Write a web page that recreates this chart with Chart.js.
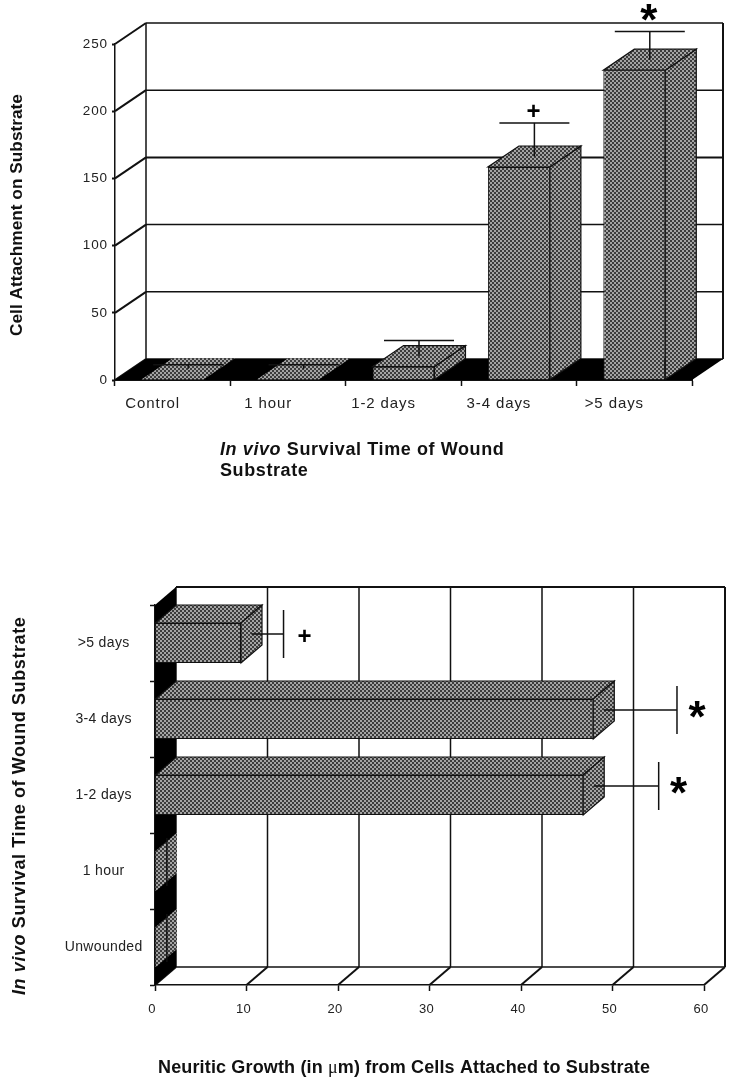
<!DOCTYPE html>
<html>
<head>
<meta charset="utf-8">
<script src="https://cdn.jsdelivr.net/npm/chart.js@4/dist/chart.umd.js"></script>
<style>
  html, body { margin: 0; padding: 0; background: #fff; }
  #page { position: relative; width: 734px; height: 1080px; overflow: hidden; }
  canvas { position: absolute; left: 0; }
  #attachChart { top: 0; }
  #growthChart { top: 560px; }
</style>
</head>
<body>
<div id="page">
  <canvas id="attachChart" width="734" height="500"></canvas>
  <canvas id="growthChart" width="734" height="520"></canvas>
</div>
<script>
// Top chart: cell attachment
const attachLabels = ['Control', '1 hour', '1-2 days', '3-4 days', '>5 days'];
const attachValues = [0.5, 0.5, 10, 158.5, 230.5];
const attachErrors = [3, 3, 11.5, 25, 21];
const attachMarks = ['', '', '', '+', '*'];
const attachTicks = [0, 50, 100, 150, 200, 250];

// Bottom chart: neuritic growth
const growthLabels = ['>5 days', '3-4 days', '1-2 days', '1 hour', 'Unwounded'];
const growthValues = [9.4, 47.9, 46.8, 0.1, 0.1];
const growthErrors = [3.5, 8, 7.1, 0.05, 0.05];
const growthMarks = ['+', '*', '*', '', ''];
const growthTicks = [0, 10, 20, 30, 40, 50, 60];

const INK = '#111';
const FONT = '"Liberation Sans", Arial, sans-serif';

// Dithered grey used on every bar face
function makeDither() {
    const tile = document.createElement('canvas');
    tile.width = 4;
    tile.height = 4;
    const t = tile.getContext('2d');
    t.fillStyle = '#3c3c3c';
    t.fillRect(0, 0, 4, 4);
    t.fillStyle = '#a4a4a4';
    t.fillRect(0, 0, 2, 2);
    t.fillRect(2, 2, 2, 2);
    return t.createPattern(tile, 'repeat');
}
const dither = makeDither();

function poly(ctx, points, fill, stroke) {
    ctx.beginPath();
    points.forEach((p, i) => i ? ctx.lineTo(p[0], p[1]) : ctx.moveTo(p[0], p[1]));
    ctx.closePath();
    if (fill) {
        ctx.fillStyle = fill;
        ctx.fill();
    }
    if (stroke) {
        ctx.strokeStyle = INK;
        ctx.lineWidth = 1.2;
        ctx.stroke();
    }
}

function line(ctx, x1, y1, x2, y2, width) {
    ctx.beginPath();
    ctx.moveTo(x1, y1);
    ctx.lineTo(x2, y2);
    ctx.strokeStyle = INK;
    ctx.lineWidth = width;
    ctx.stroke();
}

// Draws mixed-style text; rotated when rot is set
function drawRuns(ctx, runs, x, y, rot, spacing) {
    ctx.save();
    ctx.translate(x, y);
    ctx.rotate(rot || 0);
    ctx.fillStyle = '#111';
    ctx.textAlign = 'left';
    ctx.textBaseline = 'alphabetic';
    ctx.letterSpacing = spacing + 'px';
    let pos = 0;
    runs.forEach(r => {
        ctx.font = r[1];
        ctx.fillText(r[0], pos, 0);
        pos += ctx.measureText(r[0]).width;
    });
    ctx.restore();
}

function drawMark(ctx, text, x, y) {
    if (!text) return;
    const size = text === '*' ? 44 : 24;
    const lift = text === '*' ? 0.57 : 0.33;
    ctx.save();
    ctx.letterSpacing = '0px';
    ctx.font = 'bold ' + size + 'px ' + FONT;
    ctx.fillStyle = '#000';
    ctx.textAlign = 'center';
    ctx.textBaseline = 'alphabetic';
    ctx.fillText(text, x, y + size * lift);
    ctx.restore();
}

const BOLD = 'bold 18px ' + FONT;
const BOLD_IT = 'italic bold 18px ' + FONT;

// Vertical 3D columns
const attachPlugin = {
    id: 'attach3d',
    beforeDraw(chart) {
        chart.ctx.letterSpacing = '0.9px';
    },
    beforeDatasetsDraw(chart) {
        const { ctx, scales: { x, y } } = chart;
        const dx = 31, dy = -21;
        const left = x.left, right = x.right, base = y.getPixelForValue(0);
        const top = y.getPixelForValue(attachTicks[attachTicks.length - 1]);
        // back wall and its grid, diagonal ties to the front axis
        attachTicks.forEach(v => {
            const py = y.getPixelForValue(v);
            line(ctx, left, py, left + dx, py + dy, 2);
            line(ctx, left + dx, py + dy, right + dx, py + dy, v === 150 ? 2 : 1.5);
        });
        line(ctx, left + dx, top + dy, left + dx, base + dy, 1.5);
        line(ctx, right + dx, top + dy, right + dx, base + dy, 2);
        // black floor
        poly(ctx, [[left, base], [right, base], [right + dx, base + dy], [left + dx, base + dy]], '#000');
    },
    afterDatasetsDraw(chart) {
        const { ctx, scales: { y } } = chart;
        const dx = 31, dy = -21;
        chart.getDatasetMeta(0).data.forEach((bar, i) => {
            const p = bar.getProps(['x', 'y', 'base', 'width'], true);
            const l = p.x - p.width / 2, r = p.x + p.width / 2;
            const flat = p.base - p.y < 3;
            poly(ctx, [[r, p.y], [r + dx, p.y + dy], [r + dx, p.base + dy], [r, p.base]], dither, !flat);
            poly(ctx, [[l, p.y], [r, p.y], [r + dx, p.y + dy], [l + dx, p.y + dy]], dither, !flat);
            // error bar sits at mid depth
            const sx = p.x + dx / 2;
            const capY = y.getPixelForValue(attachValues[i] + attachErrors[i]) + dy / 2;
            line(ctx, sx, p.y + dy / 2, sx, capY, 1.5);
            line(ctx, sx - 35, capY, sx + 35, capY, 1.5);
            drawMark(ctx, attachMarks[i], sx - 1, capY - (attachMarks[i] === '*' ? 22 : 12));
        });
    },
    afterDraw(chart) {
        const ctx = chart.ctx;
        drawRuns(ctx, [['In vivo', BOLD_IT], [' Survival Time of Wound', BOLD]], 220, 455, 0, 0.6);
        drawRuns(ctx, [['Substrate', BOLD]], 220, 476, 0, 0.6);
        drawRuns(ctx, [['Cell Attachment on Substrate', 'bold 17.3px ' + FONT]], 22, 336, -Math.PI / 2, 0);
    }
};

// Horizontal 3D bars
const growthPlugin = {
    id: 'growth3d',
    beforeDraw(chart) {
        chart.ctx.letterSpacing = '0.35px';
    },
    beforeDatasetsDraw(chart) {
        const { ctx, scales: { x, y } } = chart;
        const dx = 21, dy = -18;
        const top = y.top, bottom = y.bottom;
        const left = x.getPixelForValue(0);
        // back wall verticals and diagonal ties along the floor
        growthTicks.forEach(v => {
            const px = x.getPixelForValue(v);
            line(ctx, px, bottom, px + dx, bottom + dy, 2);
            line(ctx, px + dx, top + dy, px + dx, bottom + dy, v === 60 ? 2 : 1.5);
        });
        line(ctx, left + dx, top + dy, x.getPixelForValue(60) + dx, top + dy, 2);
        line(ctx, left + dx, bottom + dy, x.getPixelForValue(60) + dx, bottom + dy, 1.5);
        // black side wall at zero
        poly(ctx, [[left, top], [left + dx, top + dy], [left + dx, bottom + dy], [left, bottom]], '#000');
    },
    afterDatasetsDraw(chart) {
        const { ctx, scales: { x } } = chart;
        const dx = 21, dy = -18;
        chart.getDatasetMeta(0).data.forEach((bar, i) => {
            const p = bar.getProps(['x', 'y', 'base', 'height'], true);
            const t = p.y - p.height / 2, b = p.y + p.height / 2;
            const flat = p.x - p.base < 3;
            poly(ctx, [[p.base, t], [p.x, t], [p.x + dx, t + dy], [p.base + dx, t + dy]], dither, !flat);
            poly(ctx, [[p.x, t], [p.x + dx, t + dy], [p.x + dx, b + dy], [p.x, b]], dither, !flat);
            const sy = p.y + dy / 2;
            const capX = x.getPixelForValue(growthValues[i] + growthErrors[i]) + dx / 2;
            line(ctx, p.x + dx / 2, sy, capX, sy, 1.5);
            line(ctx, capX, sy - 24, capX, sy + 24, 1.5);
            if (growthMarks[i] === '*') drawMark(ctx, '*', capX + 20, sy - 3);
            else drawMark(ctx, growthMarks[i], capX + 21, sy + 2);
        });
    },
    afterDraw(chart) {
        const ctx = chart.ctx;
        const h = chart.height;
        drawRuns(ctx, [['Neuritic Growth (in ', BOLD], ['\u03bc', '18px "Liberation Serif", serif'], ['m) from Cells Attached to Substrate', BOLD]], 158, h - 7, 0, 0.15);
        drawRuns(ctx, [['In vivo', BOLD_IT], [' Survival Time of Wound Substrate', BOLD]], 25, 435, -Math.PI / 2, 0.6);
    }
};

new Chart(document.getElementById('attachChart'), {
    type: 'bar',
    data: {
        labels: attachLabels,
        datasets: [{
            data: attachValues,
            backgroundColor: dither,
            borderColor: INK,
            borderWidth: ctx => ctx.raw < 3 ? 0 : 1,
            barPercentage: 0.537,
            categoryPercentage: 1
        }]
    },
    plugins: [attachPlugin],
    options: {
        responsive: false,
        animation: false,
        layout: { padding: { top: 44, right: 42 } },
        plugins: { legend: { display: false }, tooltip: { enabled: false } },
        scales: {
            x: {
                afterFit: s => { s.height = 120; },
                grid: { drawOnChartArea: false, tickLength: 6, tickColor: INK, tickWidth: 1.5 },
                border: { color: INK, width: 2 },
                ticks: { color: '#222', font: { family: FONT, size: 15 }, padding: 9, labelOffset: -20, maxRotation: 0 }
            },
            y: {
                min: 0,
                max: 250,
                afterFit: s => { s.width = 115; },
                afterBuildTicks: s => { s.ticks = attachTicks.map(v => ({ value: v })); },
                grid: { drawOnChartArea: false, tickLength: 3, tickColor: INK, tickWidth: 2 },
                border: { color: INK, width: 1.5 },
                ticks: { color: '#222', font: { family: FONT, size: 13.5 }, padding: 4 }
            }
        }
    }
});

new Chart(document.getElementById('growthChart'), {
    type: 'bar',
    data: {
        labels: growthLabels,
        datasets: [{
            data: growthValues,
            backgroundColor: dither,
            borderColor: INK,
            borderWidth: ctx => ctx.raw < 1 ? 0 : 1,
            barPercentage: 0.526,
            categoryPercentage: 1
        }]
    },
    plugins: [growthPlugin],
    options: {
        indexAxis: 'y',
        responsive: false,
        animation: false,
        layout: { padding: { top: 45, right: 30 } },
        plugins: { legend: { display: false }, tooltip: { enabled: false } },
        scales: {
            x: {
                min: 0,
                max: 60,
                afterFit: s => { s.height = 95; },
                afterBuildTicks: s => { s.ticks = growthTicks.map(v => ({ value: v })); },
                grid: { drawOnChartArea: false, tickLength: 6, tickColor: INK, tickWidth: 1.5 },
                border: { color: INK, width: 1.5 },
                ticks: { color: '#222', font: { family: FONT, size: 13 }, padding: 11, labelOffset: -3, maxRotation: 0 }
            },
            y: {
                afterFit: s => { s.width = 155; },
                grid: { drawOnChartArea: false, tickLength: 5, tickColor: INK, tickWidth: 1.5 },
                border: { color: INK, width: 1.5 },
                ticks: { color: '#222', font: { family: FONT, size: 14 }, padding: 9, crossAlign: 'center' }
            }
        }
    }
});
</script>
</body>
</html>
